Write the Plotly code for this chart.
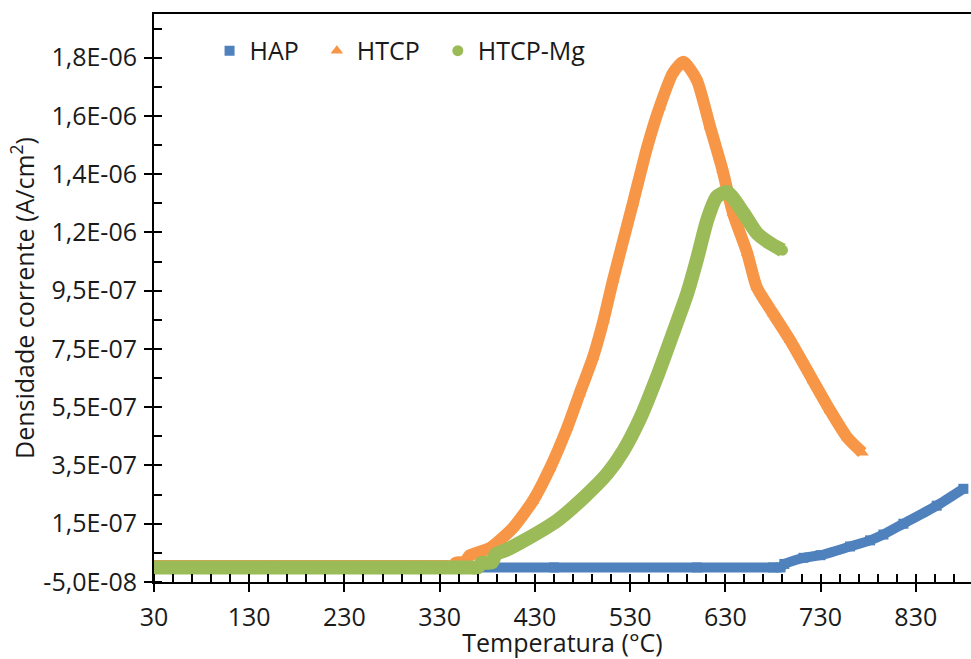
import plotly.graph_objects as go

# Temperature (°C) and current density (A/cm²) for each sample
hap_t = [30, 150, 300, 450, 600, 680, 688, 692, 712, 730, 761, 782, 796, 817, 852, 880]
hap_j = [0, 0, 0, 0, 0, 0, 0, 1.2e-8, 3.3e-8, 4.2e-8, 7.2e-8, 9.3e-8, 1.13e-7, 1.5e-7, 2.12e-7, 2.7e-7]

htcp_t = [30, 150, 300, 335, 343, 347, 357, 361, 383, 407, 428, 446, 464, 477, 491, 502, 512,
          533, 548, 561, 575, 586, 600, 614, 627, 638, 653, 663, 680, 698, 722, 740, 758, 774]
htcp_j = [5e-9, 5e-9, 5e-9, 5e-9, 5e-9, 1.6e-8, 2.0e-8, 4.0e-8, 6.7e-8, 1.36e-7, 2.29e-7, 3.42e-7,
          4.80e-7, 5.97e-7, 7.21e-7, 8.48e-7, 9.86e-7, 1.251e-6, 1.444e-6, 1.581e-6, 1.698e-6,
          1.736e-6, 1.674e-6, 1.513e-6, 1.365e-6, 1.217e-6, 1.079e-6, 9.62e-7, 8.72e-7,
          7.80e-7, 6.42e-7, 5.39e-7, 4.46e-7, 3.94e-7]

mg_t = [30, 150, 300, 360, 370, 374, 385, 389, 400, 418, 453, 481, 506, 523, 541, 558, 575,
        590, 600, 611, 621, 632, 649, 663, 677, 690]
mg_j = [0, 0, 0, 0, 0, 1.5e-8, 1.8e-8, 4.6e-8, 6.0e-8, 9.1e-8, 1.6e-7, 2.39e-7, 3.22e-7,
        4.01e-7, 5.15e-7, 6.52e-7, 8.04e-7, 9.41e-7, 1.055e-6, 1.193e-6, 1.272e-6,
        1.289e-6, 1.217e-6, 1.148e-6, 1.113e-6, 1.089e-6]

# Axis ticks
x_ticks = [30, 130, 230, 330, 430, 530, 630, 730, 830]
y_ticks = [-5e-8, 1.5e-7, 3.5e-7, 5.5e-7, 7.5e-7, 9.5e-7, 1.15e-6, 1.35e-6, 1.55e-6, 1.75e-6]
y_labels = ["-5,0E-08", "1,5E-07", "3,5E-07", "5,5E-07", "7,5E-07", "9,5E-07",
            "1,2E-06", "1,4E-06", "1,6E-06", "1,8E-06"]

NB = "\u00a0\u00a0"  # extra spacing after a legend label

# name, legend label, x, y, colour, legend symbol, band width, symbol size
series = [
    ("HAP", "HAP" + NB, hap_t, hap_j, "#4F81BD", "square", 10, 10),
    ("HTCP", "HTCP" + NB, htcp_t, htcp_j, "#F79646", "triangle-up", 12, 11),
    ("HTCP-Mg", "HTCP-Mg", mg_t, mg_j, "#9BBB59", "circle", 14, 11),
]

FONT = "Open Sans, Noto Sans, sans-serif"
TXT = "#1a1a1a"
FS = 25

fig = go.Figure()
for name, label, t, j, color, symbol, lw, ms in series:
    fig.add_trace(go.Scatter(
        x=t, y=j, mode="lines", name=name, legendgroup=name, showlegend=False,
        line=dict(color=color, width=lw, shape="spline", smoothing=0.6),
        hoverinfo="skip",
    ))
    fig.add_trace(go.Scatter(
        x=t, y=j, mode="markers", name=label, legendgroup=name,
        marker=dict(color=color, symbol=symbol, size=ms, line=dict(width=0)),
    ))

x_range = [30, 888]
y_range = [-5e-8, 1.9e-6]

fig.update_layout(
    width=971, height=659,
    margin=dict(l=154, r=0, t=14, b=77),
    paper_bgcolor="white", plot_bgcolor="white",
    font=dict(family=FONT, size=FS, color=TXT),
    showlegend=True,
    legend=dict(
        orientation="h", x=0.068, y=0.935, xanchor="left", yanchor="middle",
        font=dict(family=FONT, size=FS, color=TXT),
        bgcolor="rgba(0,0,0,0)", itemclick=False, tracegroupgap=0,
    ),
    xaxis=dict(
        range=x_range, tickmode="array", tickvals=x_ticks,
        ticks="outside", ticklen=8, tickwidth=1.5, tickcolor="black",
        showline=True, linecolor="black", linewidth=2, mirror=True,
        showgrid=False, zeroline=False,
        minor=dict(ticks="inside", ticklen=8, tickwidth=1.5, tickcolor="black",
                   tick0=30, dtick=20, showgrid=False),
        tickfont=dict(family=FONT, size=FS, color=TXT),
        ticklabelstandoff=4,
        title=dict(text="Temperatura (°C)", font=dict(family=FONT, size=FS, color=TXT), standoff=8),
    ),
    yaxis=dict(
        range=y_range, tickmode="array", tickvals=y_ticks, ticktext=y_labels,
        ticks="outside", ticklen=8, tickwidth=1.5, tickcolor="black",
        showline=True, linecolor="black", linewidth=2,
        showgrid=False, zeroline=False,
        minor=dict(ticks="inside", ticklen=8, tickwidth=1.5, tickcolor="black",
                   tick0=-5e-8, dtick=1e-7, showgrid=False),
        tickfont=dict(family=FONT, size=FS, color=TXT),
        ticklabelstandoff=2,
        title=dict(text="Densidade corrente (A/cm<sup>2</sup>)",
                   font=dict(family=FONT, size=FS, color=TXT), standoff=2),
    ),
    # companion axes giving the major ticks their inner half
    xaxis2=dict(
        overlaying="x", anchor="y", side="bottom", range=x_range,
        tickmode="array", tickvals=x_ticks, ticks="inside", ticklen=8, tickwidth=1.5,
        tickcolor="black", showticklabels=False, showline=False, showgrid=False, zeroline=False,
    ),
    yaxis2=dict(
        overlaying="y", anchor="x", side="left", range=y_range,
        tickmode="array", tickvals=y_ticks, ticks="inside", ticklen=8, tickwidth=1.5,
        tickcolor="black", showticklabels=False, showline=False, showgrid=False, zeroline=False,
    ),
)

fig.write_html("out.html")
